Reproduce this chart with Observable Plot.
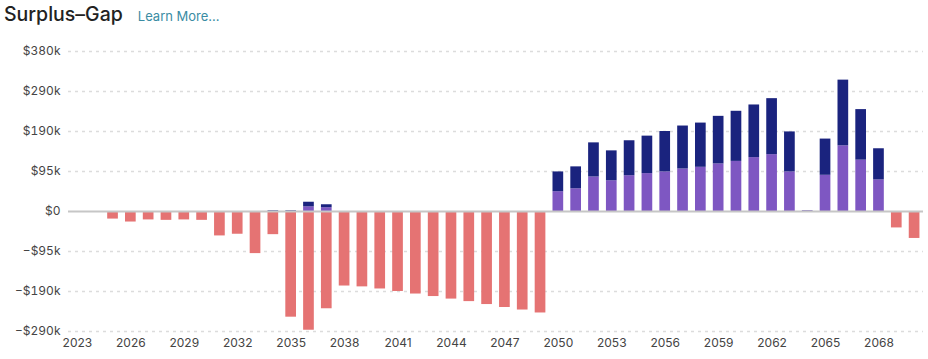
<!DOCTYPE html>
<html>
<head>
<meta charset="utf-8">
<script src="https://cdn.jsdelivr.net/npm/d3@7"></script>
<script src="https://cdn.jsdelivr.net/npm/@observablehq/plot@0.6"></script>
<style>
  body { margin: 0; background: #fff; font-family: Inter, sans-serif; }
  .header { height: 36px; padding: 0 4px; display: flex; align-items: baseline; gap: 15px; }
  .title { font-size: 19.5px; line-height: 28px; color: #222; font-weight: 500; }
  .link { font-size: 13px; color: #3a8ca3; }
</style>
</head>
<body>
<div class="header"><span class="title">Surplus–Gap</span><span class="link">Learn More...</span></div>
<div id="chart"></div>
<script>
const years = [2023,2024,2025,2026,2027,2028,2029,2030,2031,2032,2033,2034,2035,2036,2037,2038,2039,2040,2041,2042,2043,2044,2045,2046,2047,2048,2049,2050,2051,2052,2053,2054,2055,2056,2057,2058,2059,2060,2061,2062,2063,2064,2065,2066,2067,2068,2069,2070];

const gap = [0,0,-18000,-25000,-20000,-21000,-20000,-21000,-58000,-54000,-100000,-55000,-251000,-282000,-231000,-177000,-179000,-184000,-190000,-196000,-202000,-208000,-214000,-221000,-228000,-234000,-241000,
  0,0,0,0,0,0,0,0,0,0,0,0,0,0,0,0,0,0,0,
  -39000,-64000];

const surplusLower = [0,0,0,0,0,0,0,0,0,0,0,0,0,11000,9000,0,0,0,0,0,0,0,0,0,0,0,0,
  47000,54000,82000,73000,85000,90000,94000,101000,105000,113000,119000,128000,135000,94000,1500,86000,156000,122000,75000,
  0,0];

const surplusUpper = [0,0,0,0,0,0,0,0,0,0,0,1500,1500,11000,7000,0,0,0,0,0,0,0,0,0,0,0,0,
  47000,52000,81000,71000,83000,89000,96000,102000,105000,113000,119000,125000,133000,95000,500,86000,156000,120000,74000,
  0,0];

const yTicks = [-285000,-190000,-95000,0,95000,190000,285000,380000];
const xTicks = [2023,2026,2029,2032,2035,2038,2041,2044,2047,2050,2053,2056,2059,2062,2065,2068];

const seriesNames = ["lower","upper","gap"];
const seriesColors = ["#7e57c2","#1a237e","#e57373"];

const rows = [];
[[surplusLower,"lower"],[surplusUpper,"upper"],[gap,"gap"]].forEach(([arr,name]) => {
  arr.forEach((v,i) => { if (v !== 0) rows.push({year: years[i], value: v, series: name}); });
});

const fmt = d => d === 0 ? "$0" : d3.format("$.2s")(d);

const chart = Plot.plot({
  width: 928,
  height: 323,
  marginLeft: 68,
  marginRight: 5,
  marginTop: 15,
  marginBottom: 28,
  style: {fontFamily: "Inter, sans-serif", fontSize: "12px", color: "#444"},
  x: {type: "band", domain: years, paddingInner: 0.4, paddingOuter: 0.2, ticks: xTicks, tickSize: 0, tickPadding: 7, label: null, tickFormat: d => String(d)},
  y: {domain: [-285000, 380000], ticks: yTicks, tickFormat: fmt, tickSize: 0, tickPadding: 8, label: null},
  color: {domain: seriesNames, range: seriesColors},
  marks: [
    Plot.ruleY(yTicks.filter(d => d !== 0), {stroke: "#dcdcdc", strokeWidth: 1.5, strokeDasharray: "3,4"}),
    Plot.barY(rows, {x: "year", y: "value", fill: "series", order: seriesNames}),
    Plot.ruleY([0], {stroke: "#c6c6c6", strokeWidth: 2})
  ]
});
document.getElementById("chart").appendChild(chart);
</script>
</body>
</html>
